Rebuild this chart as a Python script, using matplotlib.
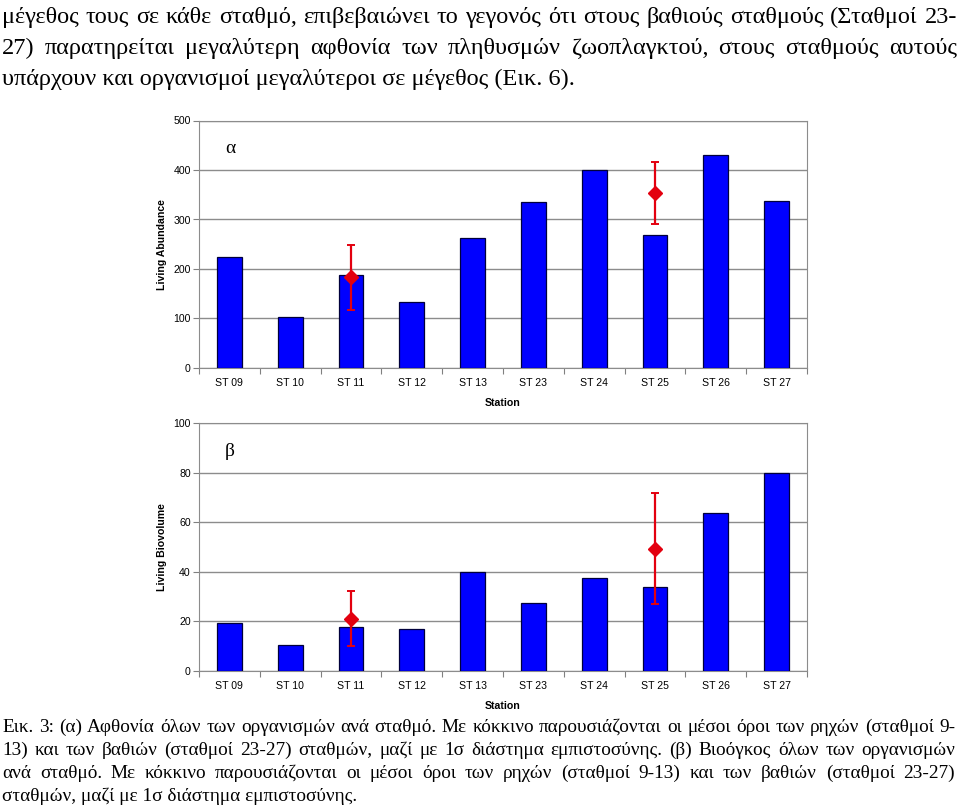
import matplotlib.pyplot as plt
import numpy as np

# values
stations = ['ST 09', 'ST 10', 'ST 11', 'ST 12', 'ST 13',
            'ST 23', 'ST 24', 'ST 25', 'ST 26', 'ST 27']
abundance = [225, 103, 188, 134, 263, 336, 399, 268, 431, 338]
biovolume = [19.2, 10.3, 17.7, 16.9, 39.8, 27.6, 37.7, 34.0, 63.9, 79.9]

# mean of shallow (9-13) and deep (23-27) stations, with 1 sigma range
mean_stations = ['ST 11', 'ST 25']
abund_mean = [184, 353]
abund_low = [118, 291]
abund_high = [248, 416]
biov_mean = [20.8, 49.2]
biov_low = [10.0, 26.9]
biov_high = [32.4, 71.6]

intro_lines = [
    'μέγεθος τους σε κάθε σταθμό, επιβεβαιώνει το γεγονός ότι στους βαθιούς σταθμούς  (Σταθμοί 23-',
    '27) παρατηρείται μεγαλύτερη αφθονία των πληθυσμών ζωοπλαγκτού, στους σταθμούς αυτούς',
    'υπάρχουν και οργανισμοί μεγαλύτεροι σε μέγεθος (Εικ. 6).',
]
caption_lines = [
    'Εικ. 3: (α) Αφθονία όλων των οργανισμών ανά σταθμό. Με κόκκινο παρουσιάζονται οι μέσοι όροι των ρηχών (σταθμοί 9-',
    '13) και των βαθιών (σταθμοί 23-27) σταθμών, μαζί με 1σ διάστημα εμπιστοσύνης. (β) Βιοόγκος όλων των οργανισμών',
    'ανά σταθμό. Με κόκκινο παρουσιάζονται οι μέσοι όροι των ρηχών (σταθμοί 9-13) και των βαθιών (σταθμοί 23-27)',
    'σταθμών, μαζί με 1σ διάστημα εμπιστοσύνης.',
]

W, H = 960, 808
plt.rcParams['font.family'] = ['Liberation Sans', 'DejaVu Sans']
SERIF = ['Liberation Serif', 'DejaVu Serif']
FS = 7.6

fig = plt.figure(figsize=(W / 100, H / 100), dpi=100)
renderer = fig.canvas.get_renderer()


def px(x, y):
    return x / W, 1 - y / H


def width_of(s, size):
    t = fig.text(0, 0, s, fontsize=size, family=SERIF)
    w = t.get_window_extent(renderer).width
    t.remove()
    return w


def paragraph(lines, baselines, last_width, left=2, right=957):
    # font size from the unjustified last line, other lines justified
    size = 12 * last_width / width_of(lines[-1], 12)
    for i, (line, yb) in enumerate(zip(lines, baselines)):
        if i == len(lines) - 1:
            fig.text(*px(left, yb), line, fontsize=size, family=SERIF, va='baseline')
            continue
        words = line.split()
        widths = [width_of(w, size) for w in words]
        gap = (right - left - sum(widths)) / (len(words) - 1)
        x = left
        for w, wd in zip(words, widths):
            fig.text(*px(x, yb), w, fontsize=size, family=SERIF, va='baseline')
            x += wd + gap


paragraph(intro_lines, [23, 54, 85], 573, right=957)
paragraph(caption_lines, [732, 755, 778, 801], 355, right=955)


def draw(ax, values, means, lows, highs, ymax, ylabel, letter, h_px):
    x = np.arange(len(stations))
    ax.bar(x, values, width=0.41, color='#0000FF', edgecolor='#00003C',
           linewidth=0.9, zorder=3)
    mx = [stations.index(s) for s in mean_stations]
    means = np.array(means)
    err = [means - np.array(lows), np.array(highs) - means]
    ax.errorbar(mx, means, yerr=err, fmt='D', color='#E3000F', ms=7.5,
                capsize=3, elinewidth=1.6, capthick=1.4, zorder=4)
    ax.set_xlim(-0.5, len(stations) - 0.5)
    ax.set_ylim(0, ymax)
    ax.set_yticks(range(0, ymax + 1, ymax // 5))
    ax.yaxis.grid(True, color='#8c8c8c', lw=1)
    ax.set_axisbelow(True)
    ax.set_xticks(np.arange(-0.5, len(stations)), labels=[])
    ax.set_xticks(x, labels=stations, minor=True)
    ax.tick_params(axis='x', which='major', length=4, color='#808080')
    ax.tick_params(axis='x', which='minor', length=0, pad=7.2, labelsize=FS)
    ax.tick_params(axis='y', length=4, color='#808080', pad=2, labelsize=FS)
    for sp in ax.spines.values():
        sp.set_color('#8c8c8c')
    ax.set_xlabel('Station', fontsize=FS, fontweight='bold', va='center')
    ax.xaxis.set_label_coords(0.5, -35 / h_px)
    ax.set_ylabel(ylabel, fontsize=FS, fontweight='bold', va='center')
    ax.yaxis.set_label_coords(-37 / 608, 0.5)
    ax.text(31 / 608, 1 - 28 / h_px, letter, transform=ax.transAxes,
            family=SERIF, fontsize=14, ha='center', va='center')


ax1 = fig.add_axes([199 / W, 1 - 368 / H, 608 / W, 247.5 / H])
draw(ax1, abundance, abund_mean, abund_low, abund_high, 500,
     'Living Abundance', 'α', 247.5)

ax2 = fig.add_axes([199 / W, 1 - 671 / H, 608 / W, 248 / H])
draw(ax2, biovolume, biov_mean, biov_low, biov_high, 100,
     'Living Biovolume', 'β', 248)

fig.savefig('out.png', dpi=100)
